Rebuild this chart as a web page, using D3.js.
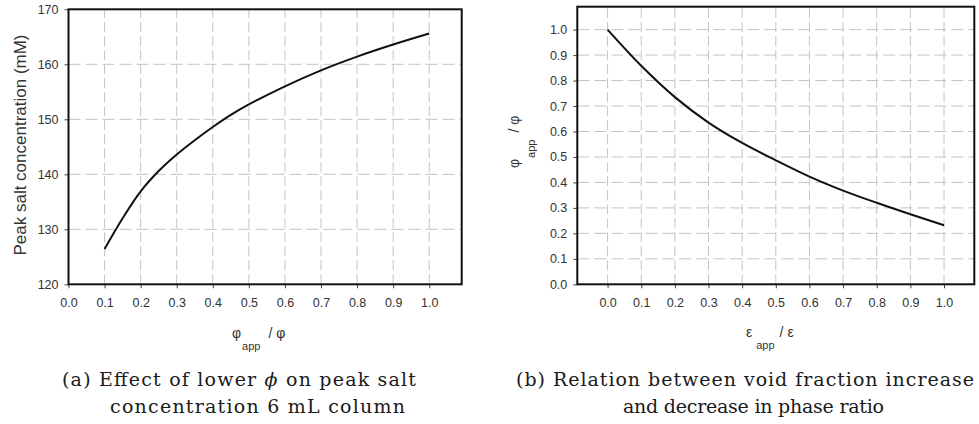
<!DOCTYPE html>
<html>
<head>
<meta charset="utf-8">
<script src="https://cdn.jsdelivr.net/npm/d3@7"></script>
<style>
  body { margin: 0; background: #fff; }
  svg { display: block; }
</style>
</head>
<body>
<svg id="fig" width="979" height="424"></svg>
<script>
// (a) peak salt concentration vs. phi_app / phi
const phiRatioA = [0.1, 0.15, 0.2, 0.25, 0.3, 0.35, 0.4, 0.45, 0.5, 0.6, 0.7, 0.8, 0.9, 1.0];
const peakSalt  = [126.4, 132.0, 136.9, 140.6, 143.6, 146.2, 148.6, 150.8, 152.7, 156.0, 158.9, 161.4, 163.6, 165.6];

// (b) phi_app / phi vs. eps_app / eps
const epsRatio  = [0.0, 0.1, 0.2, 0.3, 0.4, 0.5, 0.6, 0.7, 0.8, 0.9, 1.0];
const phiRatioB = [1.0, 0.858, 0.735, 0.635, 0.555, 0.487, 0.423, 0.368, 0.320, 0.275, 0.232];

// tick values
const ticksAx = [0.0, 0.1, 0.2, 0.3, 0.4, 0.5, 0.6, 0.7, 0.8, 0.9, 1.0];
const ticksAy = [120, 130, 140, 150, 160, 170];
const ticksBx = [0.0, 0.1, 0.2, 0.3, 0.4, 0.5, 0.6, 0.7, 0.8, 0.9, 1.0];
const ticksBy = [0.0, 0.1, 0.2, 0.3, 0.4, 0.5, 0.6, 0.7, 0.8, 0.9, 1.0];

const svg = d3.select("#fig");
const SANS = "'Liberation Sans', Arial, sans-serif";
const SERIF = "'DejaVu Serif', 'Liberation Serif', serif";
const f1 = d3.format(".1f");

function panel(opts) {
  const { x, y, xt, yt, gridX, gridY, xs, ys, yFmt } = opts;
  const g = svg.append("g");
  const [x0, x1] = x.range();
  const [y0, y1] = y.range();

  // dashed grid
  g.append("g").selectAll("line").data(gridX).join("line")
    .attr("x1", d => x(d)).attr("x2", d => x(d))
    .attr("y1", y0).attr("y2", y1)
    .attr("stroke", "#c4c4c4").attr("stroke-width", 1)
    .attr("stroke-dasharray", "10,4");
  g.append("g").selectAll("line").data(gridY).join("line")
    .attr("x1", x0).attr("x2", x1)
    .attr("y1", d => y(d)).attr("y2", d => y(d))
    .attr("stroke", "#c4c4c4").attr("stroke-width", 1)
    .attr("stroke-dasharray", "12,5");

  // axes
  const ax = g.append("g").attr("transform", `translate(0,${y0})`)
    .call(d3.axisBottom(x).tickValues(xt).tickFormat(f1).tickSize(4).tickPadding(10));
  const ay = g.append("g").attr("transform", `translate(${x0},0)`)
    .call(d3.axisLeft(y).tickValues(yt).tickFormat(yFmt).tickSize(4).tickPadding(6));
  [ax, ay].forEach(a => {
    a.select(".domain").remove();
    a.selectAll(".tick line").attr("stroke", "#444");
    a.selectAll(".tick text").attr("fill", "#333")
      .style("font-family", SANS).style("font-size", "12.5px");
  });

  // curve
  const line = d3.line().x((d, i) => x(xs[i])).y((d, i) => y(ys[i]))
    .curve(d3.curveCatmullRom.alpha(0.5));
  g.append("path").datum(xs).attr("d", line)
    .attr("fill", "none").attr("stroke", "#111").attr("stroke-width", 2);

  // frame
  g.append("rect").attr("x", x0).attr("y", y1)
    .attr("width", x1 - x0).attr("height", y0 - y1)
    .attr("fill", "none").attr("stroke", "#111").attr("stroke-width", 2);
  return g;
}

// panel (a)
const xA = d3.scaleLinear().domain([0, 1.09]).range([68.5, 461.7]);
const yA = d3.scaleLinear().domain([120, 170]).range([284.3, 9.3]);
panel({ x: xA, y: yA, xt: ticksAx, yt: ticksAy,
  gridX: ticksAx.slice(1), gridY: ticksAy.slice(1, -1),
  xs: phiRatioA, ys: peakSalt, yFmt: d3.format("d") });

// panel (b)
const xB = d3.scaleLinear().domain([-0.09, 1.09]).range([577.3, 974.3]);
const yB = d3.scaleLinear().domain([0, 1.09]).range([284.3, 6.7]);
panel({ x: xB, y: yB, xt: ticksBx, yt: ticksBy,
  gridX: ticksBx, gridY: ticksBy.slice(1),
  xs: epsRatio, ys: phiRatioB, yFmt: f1 });

// axis titles: symbol, subscript "app", then "/ symbol"
function subLabel(parent, main, subDy, gapSub, gapTail) {
  const t = parent.append("text").attr("fill", "#333")
    .style("font-family", SANS).style("font-size", "14px");
  t.append("tspan").text(main);
  t.append("tspan").attr("dy", subDy).attr("dx", gapSub).style("font-size", "11px").text("app");
  t.append("tspan").attr("dy", -subDy).attr("dx", gapTail).text("/ " + main);
  return t;
}
subLabel(svg, "\u03c6", 11.5, 1, 8).attr("x", 232).attr("y", 338);
subLabel(svg, "\u03b5", 12, 4, 5).attr("x", 746).attr("y", 337);
subLabel(svg.append("g").attr("transform", "translate(519,168) rotate(-90)"),
  "\u03c6", 15.5, 1, 7).attr("x", 0).attr("y", 0);

svg.append("text")
  .attr("transform", "translate(25.5,145) rotate(-90)")
  .attr("text-anchor", "middle").attr("fill", "#333")
  .style("font-family", SANS).style("font-size", "17px")
  .text("Peak salt concentration (mM)");

// sub-figure captions
function caption(x1, y1, w1, parts, x2, y2, w2, line2) {
  const c = svg.append("g").style("font-family", SERIF).style("font-size", "19px").attr("fill", "#1a1a1a");
  const t = c.append("text").attr("x", x1).attr("y", y1).attr("textLength", w1);
  parts.forEach(p => t.append("tspan").style("font-style", p.it ? "italic" : "normal").text(p.s));
  c.append("text").attr("x", x2).attr("y", y2).attr("textLength", w2).text(line2);
}
caption(62, 386, 354, [{ s: "(a) Effect of lower " }, { s: "\u03d5", it: true }, { s: " on peak salt" }],
  110, 413, 295, "concentration 6 mL column");
caption(516, 386, 458, [{ s: "(b) Relation between void fraction increase" }],
  623, 413, 261, "and decrease in phase ratio");
</script>
</body>
</html>
